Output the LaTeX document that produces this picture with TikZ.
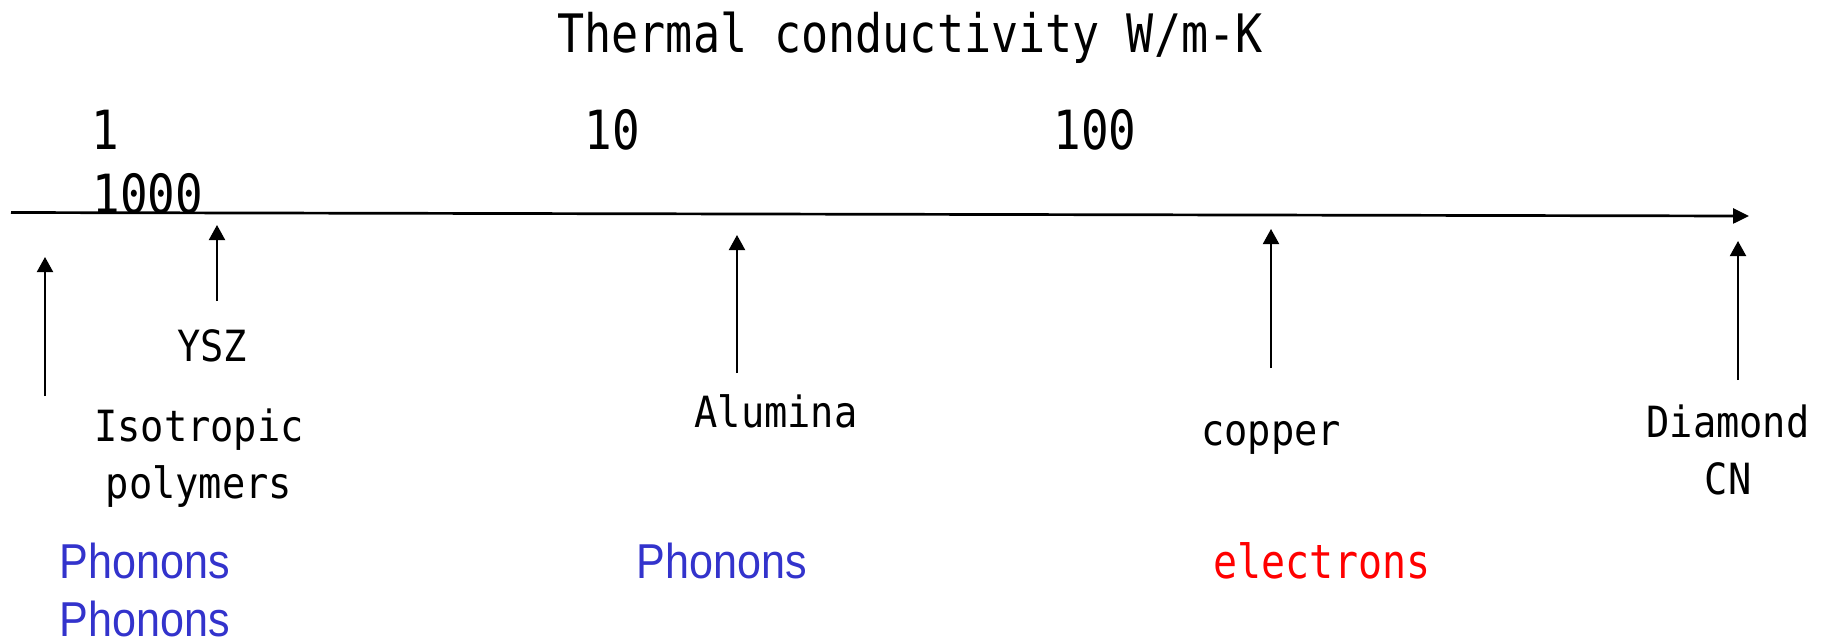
\documentclass[tikz,border=0pt]{standalone}
\usepackage{fontspec}
\newfontfamily\gothicfont[FakeStretch=0.85]{DejaVu Sans Mono}
\newfontfamily\labelfont[FakeStretch=0.9]{DejaVu Sans Mono}
\newfontfamily\carrierfont[FakeStretch=0.88]{Liberation Sans}
\usetikzlibrary{arrows.meta}

\begin{document}
\begin{tikzpicture}[x=0.5pt,y=-0.5pt,
  lbl/.style={font=\labelfont\fontsize{21.5}{28.5}\selectfont,text=black,align=center,inner sep=0pt,anchor=base},
  tick/.style={font=\gothicfont\fontsize{27}{30}\selectfont,text=black,inner sep=0pt,anchor=base},
  carrier/.style={font=\carrierfont\fontsize{24.5}{29}\selectfont,align=center,inner sep=0pt,anchor=base},
  axisline/.style={-{Triangle[length=8pt,width=7.5pt]},line width=1.35pt},
  uparrow/.style={-{Triangle[length=7.5pt,width=8pt]},line width=1pt}]
  \definecolor{phononcol}{RGB}{51,51,204}
  \definecolor{electroncol}{RGB}{255,0,0}
  \useasboundingbox (0,0) rectangle (1827,639);

  % title
  \node[tick,font=\gothicfont\fontsize{26.5}{30}\selectfont] (title) at (910,52) {Thermal conductivity W/m-K};

  % ---- axis with decade labels ----
  \coordinate (axis-start) at (11,212.5);
  \coordinate (axis-end) at (1749,216);
  \draw[axisline] (axis-start) -- (axis-end);
  \node[tick] (k1) at (105,149) {1};
  \node[tick] (k10) at (612,149) {10};
  \node[tick] (k100) at (1095,149) {100};
  \node[tick] (k1000) at (148,213) {1000};

  % ---- materials ----
  % polymers
  \coordinate (poly-tail) at (45,396);
  \coordinate (poly-tip) at (45,257);
  \draw[uparrow] (poly-tail) -- (poly-tip);
  \node[lbl] (polymers) at (199,498) {Isotropic\\polymers};
  % YSZ
  \coordinate (ysz-tail) at (217,301);
  \coordinate (ysz-tip) at (217,225);
  \draw[uparrow] (ysz-tail) -- (ysz-tip);
  \node[lbl] (ysz) at (212,361) {YSZ};
  % alumina
  \coordinate (alu-tail) at (737,373);
  \coordinate (alu-tip) at (737,235);
  \draw[uparrow] (alu-tail) -- (alu-tip);
  \node[lbl] (alumina) at (776,427) {Alumina};
  % copper
  \coordinate (cu-tail) at (1271,368);
  \coordinate (cu-tip) at (1271,229);
  \draw[uparrow] (cu-tail) -- (cu-tip);
  \node[lbl] (copper) at (1271,445) {copper};
  % diamond
  \coordinate (dia-tail) at (1738,380);
  \coordinate (dia-tip) at (1738,241);
  \draw[uparrow] (dia-tail) -- (dia-tip);
  \node[lbl] (diamond) at (1728,494) {Diamond\\CN};

  % ---- heat carriers ----
  \node[carrier,text=phononcol] (ph-low) at (145,636) {Phonons\\Phonons};
  \node[carrier,text=phononcol] (ph-mid) at (722,578) {Phonons};
  \node[carrier,text=electroncol,font=\gothicfont\fontsize{23.5}{29}\selectfont] (electrons) at (1322,578) {electrons};
\end{tikzpicture}
\end{document}
